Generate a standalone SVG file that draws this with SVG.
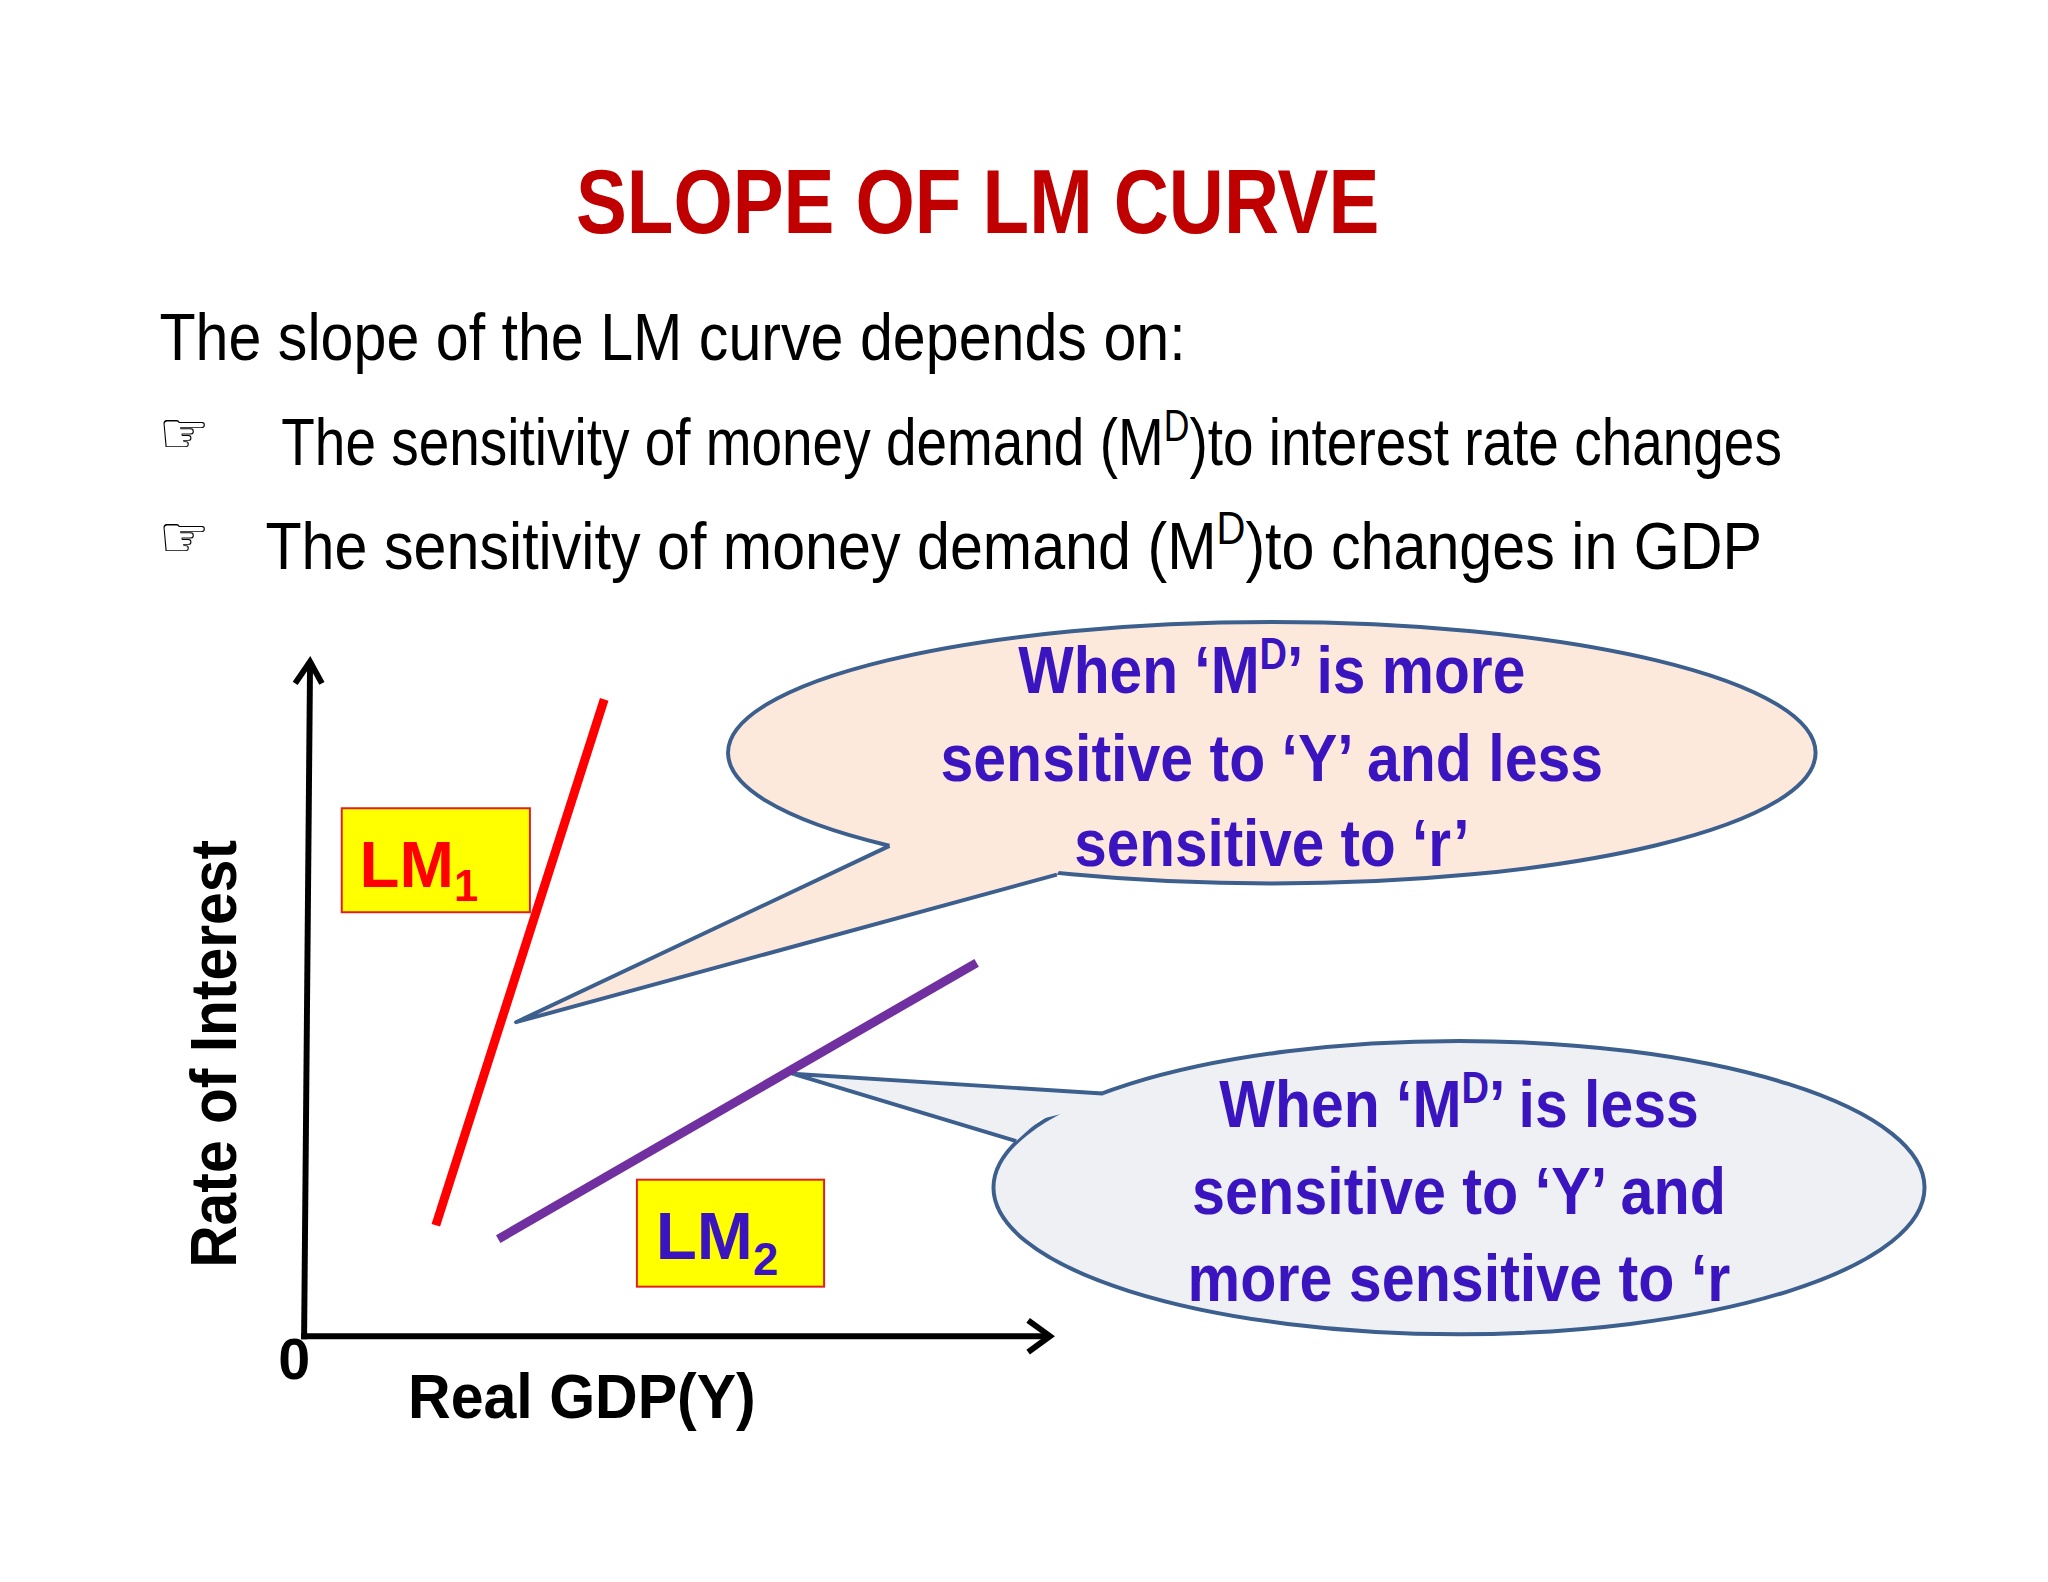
<svg xmlns="http://www.w3.org/2000/svg" width="2048" height="1582" viewBox="0 0 2048 1582">
<style>
.t{font-family:"Liberation Sans",Arial,sans-serif}
.b{font-weight:bold}
.c{fill:#3A14BE;font-size:68px;font-weight:bold;text-anchor:middle}
.body{font-size:68px;fill:#000}
.ax{stroke:#000;stroke-width:6;fill:none}
.tail{stroke:#3C5F8D;stroke-width:4;fill:none;stroke-linejoin:round}
</style>
<rect width="2048" height="1582" fill="#fff"/>
<g transform="scale(0.9905)">
<g id="title"><text class="t b" x="987" y="235" font-size="92" fill="#C00000" text-anchor="middle" textLength="811" lengthAdjust="spacingAndGlyphs">SLOPE OF LM CURVE</text></g>
<g id="body">
<text class="t body" x="161" y="363" textLength="1036" lengthAdjust="spacingAndGlyphs">The slope of the LM curve depends on:</text>
<text x="160" y="457" font-family="DejaVu Sans,sans-serif" font-size="58">☞</text>
<text class="t body" x="284" y="469" font-size="64" textLength="1515" lengthAdjust="spacingAndGlyphs">The sensitivity of money demand (M<tspan baseline-shift="super" font-size="44">D</tspan>)to interest rate changes</text>
<text x="160" y="562" font-family="DejaVu Sans,sans-serif" font-size="58">☞</text>
<text class="t body" x="268" y="574" textLength="1511" lengthAdjust="spacingAndGlyphs">The sensitivity of money demand (M<tspan baseline-shift="super" font-size="46">D</tspan>)to changes in GDP</text>
</g>
<g id="axes">
<line class="ax" x1="313" y1="672" x2="307" y2="1352"/>
<polyline class="ax" points="298,690 313,668 325,690"/>
<line class="ax" x1="304" y1="1349" x2="1058" y2="1349"/>
<polyline class="ax" points="1038,1333 1060,1349 1038,1365"/>
<text class="t b" x="281" y="1392" font-size="58">0</text>
<text class="t b" x="412" y="1432" font-size="64" textLength="351" lengthAdjust="spacingAndGlyphs">Real GDP(Y)</text>
<text class="t b" transform="translate(238,1280) rotate(-90)" font-size="66" textLength="432" lengthAdjust="spacingAndGlyphs">Rate of Interest</text>
</g>
<g id="callout1">
<ellipse cx="1284" cy="760" rx="549" ry="132" fill="#FDE8DC" stroke="#3C5F8D" stroke-width="4"/>
<polygon points="898,854 521,1032 1067,883 1080,860 900,840" fill="#FDE8DC"/>
<polyline class="tail" points="898,854 521,1032 1067,883"/>
<text class="t c" x="1284" y="700" textLength="512" lengthAdjust="spacingAndGlyphs">When ‘M<tspan baseline-shift="super" font-size="44">D</tspan>’ is more</text>
<text class="t c" x="1284" y="788" textLength="669" lengthAdjust="spacingAndGlyphs">sensitive to ‘Y’ and less</text>
<text class="t c" x="1284" y="874" textLength="399" lengthAdjust="spacingAndGlyphs">sensitive to ‘r’</text>
</g>
<g id="callout2">
<ellipse cx="1473" cy="1199" rx="470" ry="148" fill="#EEF0F3" stroke="#3C5F8D" stroke-width="4"/>
<polygon points="1113,1104 800,1084 1026,1152 1050,1130 1110,1115" fill="#EEF0F3"/>
<polyline class="tail" points="1113,1104 800,1084 1026,1152"/>
<text class="t c" x="1473" y="1138" textLength="484" lengthAdjust="spacingAndGlyphs">When ‘M<tspan baseline-shift="super" font-size="44">D</tspan>’ is less</text>
<text class="t c" x="1473" y="1226" textLength="539" lengthAdjust="spacingAndGlyphs">sensitive to ‘Y’ and</text>
<text class="t c" x="1473" y="1313" textLength="548" lengthAdjust="spacingAndGlyphs">more sensitive to ‘r</text>
</g>
<g id="lm1">
<rect x="345" y="816" width="190" height="105" fill="#FFFF00" stroke="#E02020" stroke-width="2"/>
<line x1="440" y1="1237" x2="610" y2="706" stroke="#FF0000" stroke-width="9"/>
<text class="t b" x="363" y="896" font-size="66" fill="#FF0000">LM<tspan font-size="44" dy="14">1</tspan></text>
</g>
<g id="lm2">
<line x1="503" y1="1251" x2="986" y2="972" stroke="#7030A0" stroke-width="9"/>
<rect x="643" y="1191" width="189" height="108" fill="#FFFF00" stroke="#E02020" stroke-width="2"/>
<text class="t b" x="662" y="1271" font-size="68" fill="#3A14BE">LM<tspan font-size="46" dy="16">2</tspan></text>
</g>
</g>
</svg>
